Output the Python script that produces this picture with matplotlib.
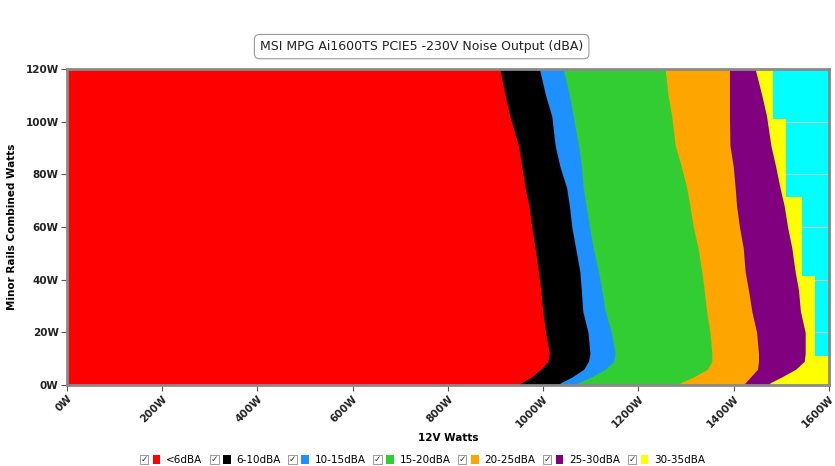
import matplotlib
matplotlib.use("Agg")
import matplotlib.pyplot as plt
from matplotlib.legend_handler import HandlerBase
from matplotlib.patches import Patch, Rectangle
from matplotlib.text import Text

# ----------------------------------------------------------------------
# Data: right edge (12V watts) of each noise band
# at a set of minor-rail loads
# ----------------------------------------------------------------------
minor_w = [0, 1, 3, 6, 9, 12, 20, 28, 36, 43, 52, 60, 68, 75, 83, 91, 102, 110, 120]

edge_lt6 = [950, 955, 975, 995, 1010, 1013, 1005, 999, 995, 990, 983, 976, 970, 962, 955, 948, 930, 920, 909]
edge_6_10 = [1030, 1038, 1060, 1085, 1095, 1098, 1094, 1083, 1080, 1077, 1068, 1060, 1055, 1049, 1035, 1025, 1018, 1005, 992]
edge_10_15 = [1068, 1075, 1100, 1130, 1148, 1151, 1143, 1130, 1123, 1116, 1105, 1097, 1090, 1084, 1080, 1074, 1063, 1055, 1042]
edge_15_20 = [1282, 1290, 1315, 1345, 1354, 1354, 1350, 1343, 1338, 1333, 1325, 1315, 1308, 1301, 1290, 1277, 1270, 1262, 1256]
edge_20_25 = [1420, 1425, 1435, 1450, 1452, 1452, 1448, 1438, 1431, 1424, 1420, 1412, 1406, 1403, 1399, 1392, 1391, 1391, 1391]
edge_25_30 = [1470, 1478, 1500, 1530, 1548, 1550, 1550, 1540, 1536, 1529, 1522, 1513, 1506, 1497, 1488, 1478, 1469, 1459, 1445]

# the 30-35dBA band ends in steps
minor_w_30_35 = [0, 11, 11, 41.3, 41.3, 71.5, 71.5, 101, 101, 120]
edge_30_35 = [1600, 1600, 1571, 1571, 1543, 1543, 1510, 1510, 1482, 1482]

# small 25-30dBA pocket inside the 20-25dBA band at the top
pocket_y = [112.5, 114, 120]
pocket_left = [1352, 1347, 1347]
pocket_right = [1360, 1364, 1364]

labels = ["<6dBA", "6-10dBA", "10-15dBA", "15-20dBA", "20-25dBA", "25-30dBA", "30-35dBA"]
colors = ["#FF0000", "#000000", "#1E90FF", "#32CD32", "#FFA500", "#800080", "#FFFF00"]
beyond_color = "#00FFFF"

x_ticks = list(range(0, 1601, 200))
y_ticks = list(range(0, 121, 20))


class CheckedSwatch(HandlerBase):
    """Legend handle drawn as a ticked check box followed by a colour square."""

    def create_artists(self, legend, orig_handle, xdescent, ydescent,
                       width, height, fontsize, trans):
        s = height
        y0 = -ydescent
        box = Rectangle((-xdescent, y0), s, s, facecolor="white",
                        edgecolor="#8a8a8a", lw=0.6, transform=trans)
        tick = Text(-xdescent + s / 2, y0 + s / 2, "\u2713", ha="center", va="center",
                    fontsize=fontsize * 0.85, color="#333333", transform=trans)
        sw = Rectangle((-xdescent + s * 1.55, y0), s * 0.9, s,
                       facecolor=orig_handle.get_facecolor(), edgecolor="none",
                       transform=trans)
        return [box, tick, sw]


def main():
    fig = plt.figure(figsize=(8.35, 4.66), dpi=100)
    ax = fig.add_axes([0.0802, 0.1738, 0.9126, 0.6781])
    ax.set_facecolor(beyond_color)

    # bands stacked from the loudest up, each filled from 0W to its edge
    edges = [edge_lt6, edge_6_10, edge_10_15, edge_15_20, edge_20_25, edge_25_30]
    ax.fill_betweenx(minor_w_30_35, 0, edge_30_35, color=colors[6], lw=0, zorder=1)
    for i in range(5, -1, -1):
        ax.fill_betweenx(minor_w, 0, edges[i], color=colors[i], lw=0, zorder=2 + (5 - i))
        if i == 5:
            ax.fill_betweenx(pocket_y, pocket_left, pocket_right, color=colors[5], lw=0, zorder=3)

    ax.set_xlim(0, 1600)
    ax.set_ylim(0, 120)
    ax.set_xticks(x_ticks)
    ax.set_xticklabels([f"{v}W" for v in x_ticks], rotation=45, ha="right",
                       rotation_mode="anchor", fontsize=7.5, fontweight="bold", color="#222222")
    ax.set_yticks(y_ticks)
    ax.set_yticklabels([f"{v}W" for v in y_ticks], fontsize=7.5, fontweight="bold", color="#222222")
    ax.tick_params(length=4, width=0.8, color="#555555", pad=2)

    ax.set_axisbelow(True)
    ax.grid(axis="y", color="#c0c8c8", lw=0.8, zorder=0.5)
    for sp in ax.spines.values():
        sp.set_color("#8a8a8a")
        sp.set_linewidth(2)
        sp.set_zorder(20)

    ax.set_xlabel("12V Watts", fontsize=7.5, fontweight="bold", labelpad=3)
    ax.set_ylabel("Minor Rails Combined Watts", fontsize=7.5, fontweight="bold", labelpad=6)

    fig.text(0.505, 0.9, "MSI MPG Ai1600TS PCIE5 -230V Noise Output (dBA)",
             ha="center", va="center", fontsize=9, color="#222222",
             bbox=dict(boxstyle="round,pad=0.45,rounding_size=0.4",
                       facecolor="white", edgecolor="#9a9a9a", lw=0.8))

    handles = [Patch(facecolor=c) for c in colors]
    fig.legend(handles, labels, loc="lower center", bbox_to_anchor=(0.506, -0.018),
               ncol=7, frameon=False, fontsize=7.5, handlelength=2.2, handleheight=0.85,
               handletextpad=0.3, columnspacing=0.75,
               handler_map={Patch: CheckedSwatch()})

    fig.savefig("out.png", dpi=100)


if __name__ == "__main__":
    main()
